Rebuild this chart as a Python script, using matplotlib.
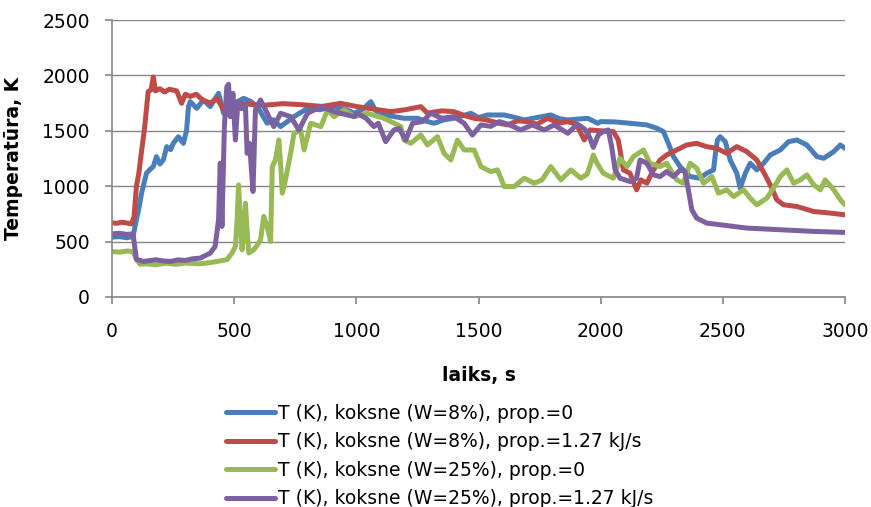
import matplotlib
matplotlib.use("Agg")
import matplotlib.pyplot as plt

plt.rcParams["font.family"] = ["DejaVu Sans"]

# (time s, temperature K) readings for each run
w8_prop0 = [
    (0, 540), (30, 545), (60, 535), (86, 545), (100, 700), (110, 800), (121, 937), (141, 1117),
    (155, 1150), (169, 1177), (182, 1267), (196, 1200), (210, 1237), (224, 1357), (240, 1330),
    (251, 1387), (272, 1447), (292, 1387), (305, 1500), (313, 1718), (320, 1763), (347, 1703),
    (374, 1778), (402, 1718), (436, 1838), (457, 1658), (480, 1720), (510, 1760), (539, 1793),
    (570, 1763), (600, 1700), (635, 1568), (660, 1600), (690, 1538), (745, 1628), (800, 1703),
    (850, 1690), (909, 1718), (960, 1690), (992, 1658), (1030, 1700), (1059, 1763), (1080, 1680),
    (1113, 1643), (1150, 1630), (1195, 1613), (1250, 1613), (1280, 1590), (1318, 1568),
    (1360, 1600), (1400, 1613), (1469, 1658), (1500, 1620), (1537, 1643), (1605, 1643),
    (1650, 1620), (1687, 1598), (1740, 1620), (1796, 1643), (1830, 1610), (1865, 1598),
    (1947, 1613), (1988, 1568), (2000, 1583), (2060, 1580), (2120, 1568), (2189, 1553),
    (2230, 1523), (2257, 1493), (2277, 1387), (2298, 1267), (2325, 1177), (2366, 1087),
    (2407, 1072), (2434, 1117), (2462, 1147), (2470, 1300), (2478, 1417), (2489, 1447),
    (2510, 1402), (2530, 1237), (2557, 1117), (2571, 982), (2592, 1117), (2612, 1207),
    (2639, 1147), (2667, 1207), (2694, 1282), (2735, 1327), (2769, 1402), (2803, 1417),
    (2844, 1372), (2885, 1267), (2913, 1252), (2954, 1312), (2981, 1372), (3000, 1342),
]

w8_prop127 = [
    (0, 670), (20, 665), (40, 675), (60, 668), (80, 660), (90, 720), (100, 1000), (110, 1120),
    (120, 1300), (134, 1538), (148, 1853), (160, 1870), (169, 1985), (178, 1860), (196, 1880),
    (215, 1850), (235, 1875), (265, 1860), (285, 1748), (300, 1830), (320, 1810), (345, 1830),
    (370, 1780), (402, 1750), (430, 1790), (457, 1690), (480, 1760), (510, 1750), (560, 1740),
    (620, 1730), (700, 1745), (780, 1735), (860, 1720), (936, 1748), (1004, 1718), (1060, 1700),
    (1141, 1673), (1200, 1690), (1264, 1718), (1291, 1660), (1350, 1680), (1400, 1673),
    (1440, 1640), (1482, 1613), (1530, 1600), (1580, 1570), (1619, 1553), (1660, 1590),
    (1700, 1583), (1740, 1560), (1783, 1613), (1830, 1570), (1865, 1583), (1900, 1560),
    (1933, 1417), (1956, 1508), (2000, 1500), (2052, 1493), (2072, 1417), (2093, 1147),
    (2120, 1117), (2147, 967), (2165, 1057), (2189, 1027), (2216, 1147), (2243, 1237),
    (2270, 1282), (2311, 1327), (2352, 1372), (2393, 1387), (2434, 1357), (2475, 1342),
    (2516, 1297), (2557, 1357), (2598, 1312), (2639, 1237), (2673, 1102), (2701, 982),
    (2721, 877), (2749, 832), (2803, 817), (2872, 772), (2940, 757), (3000, 742),
]

w25_prop0 = [
    (0, 410), (30, 405), (60, 415), (85, 410), (100, 340), (115, 295), (140, 300), (180, 290),
    (220, 305), (260, 295), (300, 306), (361, 300), (400, 310), (429, 321), (470, 336),
    (491, 396), (505, 456), (512, 700), (518, 1012), (525, 700), (532, 426), (540, 600),
    (546, 847), (553, 600), (560, 396), (580, 426), (595, 470), (608, 517), (621, 727),
    (635, 637), (649, 501), (656, 1177), (669, 1237), (683, 1417), (690, 1200), (697, 937),
    (710, 1057), (731, 1297), (745, 1477), (772, 1507), (786, 1327), (813, 1568), (855, 1538),
    (882, 1688), (909, 1628), (950, 1688), (992, 1628), (1045, 1658), (1113, 1613),
    (1141, 1583), (1182, 1538), (1195, 1417), (1223, 1387), (1264, 1462), (1291, 1372),
    (1332, 1447), (1359, 1297), (1387, 1237), (1414, 1417), (1441, 1327), (1482, 1327),
    (1510, 1177), (1550, 1132), (1578, 1147), (1605, 997), (1646, 997), (1687, 1072),
    (1728, 1027), (1760, 1057), (1796, 1177), (1837, 1057), (1878, 1147), (1919, 1072),
    (1945, 1110), (1970, 1282), (1985, 1207), (2011, 1117), (2052, 1072), (2079, 1252),
    (2107, 1177), (2134, 1267), (2175, 1327), (2202, 1207), (2243, 1177), (2270, 1207),
    (2311, 1057), (2338, 1027), (2366, 1207), (2393, 1162), (2421, 1027), (2455, 1087),
    (2482, 937), (2516, 967), (2544, 907), (2585, 967), (2612, 892), (2639, 832), (2680, 892),
    (2707, 982), (2735, 1087), (2762, 1147), (2790, 1027), (2817, 1057), (2844, 1102),
    (2872, 1012), (2899, 967), (2919, 1057), (2954, 967), (2981, 877), (3000, 832),
]

w25_prop127 = [
    (0, 570), (30, 575), (60, 565), (86, 570), (100, 340), (128, 321), (160, 330), (180, 336),
    (210, 325), (240, 321), (270, 335), (300, 330), (330, 345), (361, 351), (402, 396),
    (422, 456), (436, 697), (443, 1207), (450, 637), (460, 1538), (470, 1898), (477, 1920),
    (484, 1628), (495, 1838), (505, 1417), (515, 1748), (530, 1700), (546, 1740), (553, 1297),
    (563, 1387), (577, 952), (587, 1688), (608, 1778), (635, 1658), (662, 1538), (690, 1658),
    (731, 1628), (765, 1507), (800, 1658), (855, 1718), (909, 1673), (950, 1650), (992, 1628),
    (1004, 1658), (1040, 1613), (1072, 1538), (1090, 1568), (1120, 1402), (1154, 1508),
    (1175, 1520), (1202, 1417), (1230, 1568), (1270, 1583), (1305, 1658), (1350, 1613),
    (1400, 1628), (1441, 1568), (1475, 1462), (1510, 1553), (1550, 1540), (1585, 1583),
    (1620, 1560), (1673, 1508), (1720, 1553), (1769, 1508), (1810, 1553), (1865, 1478),
    (1905, 1560), (1935, 1515), (1955, 1440), (1970, 1350), (1990, 1462), (2010, 1493),
    (2031, 1508), (2045, 1357), (2059, 1147), (2079, 1072), (2120, 1042), (2147, 1072),
    (2161, 1237), (2189, 1207), (2216, 1102), (2243, 1087), (2270, 1132), (2298, 1087),
    (2325, 1147), (2345, 1132), (2359, 967), (2373, 787), (2393, 712), (2434, 667),
    (2489, 652), (2598, 622), (2735, 607), (2872, 592), (3000, 583),
]

series = [
    (w8_prop0, "#4A7EBB", "T (K), koksne (W=8%), prop.=0"),
    (w8_prop127, "#BE4B48", "T (K), koksne (W=8%), prop.=1.27 kJ/s"),
    (w25_prop0, "#98B954", "T (K), koksne (W=25%), prop.=0"),
    (w25_prop127, "#7D60A0", "T (K), koksne (W=25%), prop.=1.27 kJ/s"),
]

x_ticks = [0, 500, 1000, 1500, 2000, 2500, 3000]
y_ticks = [0, 500, 1000, 1500, 2000, 2500]

fig = plt.figure(figsize=(8.71, 5.07), dpi=100)
ax = fig.add_axes([112 / 871, 1 - 297 / 507, (845 - 112) / 871, (297 - 20) / 507])

for data, color, label in series:
    t = [p[0] for p in data]
    T = [p[1] for p in data]
    ax.plot(t, T, color=color, lw=3.6, label=label, solid_joinstyle="round",
            solid_capstyle="round")

axis_gray = "#868686"
ax.set_xlim(0, 3000)
ax.set_ylim(0, 2500)
ax.set_xticks(x_ticks)
ax.set_yticks(y_ticks)
ax.yaxis.grid(True, color=axis_gray, lw=1.0)
ax.set_axisbelow(True)
for side in ("top", "right"):
    ax.spines[side].set_visible(False)
for side in ("left", "bottom"):
    ax.spines[side].set_color(axis_gray)
    ax.spines[side].set_linewidth(1.2)
ax.tick_params(axis="both", colors=axis_gray, length=5, width=1.2, labelsize=13.5,
               labelcolor="black")
ax.tick_params(axis="y", pad=11)
ax.tick_params(axis="x", pad=13)

ax.set_xlabel("laiks, s", fontsize=13.5, fontweight="bold", labelpad=18)
ax.set_ylabel("Temperatūra, K", fontsize=13.5, fontweight="bold", labelpad=14)

fig.legend(loc="upper left", bbox_to_anchor=(226 / 871, 1 - 404 / 507), frameon=False,
           fontsize=13.5, handlelength=2.6, handletextpad=0.15, labelspacing=0.5,
           borderaxespad=0, borderpad=0)

fig.savefig("out.png", dpi=100, facecolor="white")
